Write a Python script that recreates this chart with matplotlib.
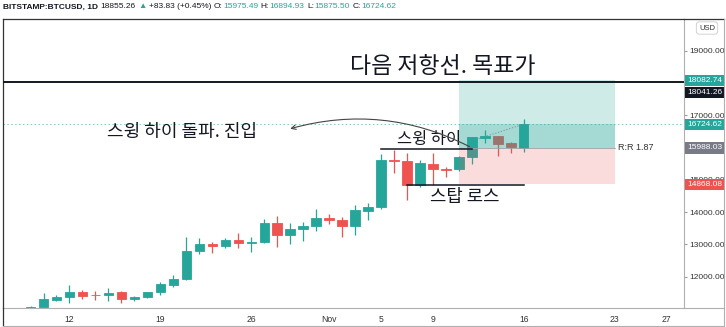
import matplotlib
matplotlib.use("Agg")
import matplotlib.pyplot as plt
from matplotlib.patches import Rectangle, FancyArrowPatch
from matplotlib.transforms import blended_transform_factory
from matplotlib.lines import Line2D

# ---- daily BTC/USD candles (day index 0 = Oct 12) ----
days = list(range(-3, 36))
opens = [10930, 11060, 11290, 11360, 11535, 11440, 11425, 11515, 11310, 11360,
         11525, 11750, 11920, 12795, 13000, 12940, 13127, 13034, 13065, 13653,
         13282, 13467, 13570, 13808, 13755, 13570, 14044, 14150, 15613, 15590,
         14840, 15490, 15340, 15325, 15715, 16310, 16360, 16130, 15975.49]
highs = [11100, 11486, 11430, 11740, 11590, 11560, 11640, 11560, 11410, 11540,
         11845, 12050, 13238, 13207, 13085, 13190, 13362, 13238, 13786, 13879,
         13653, 13684, 14096, 13932, 13848, 14230, 14272, 15790, 15920, 15820,
         15613, 15820, 15405, 15740, 16340, 16544, 16360, 16180, 16894.93]
lows = [10830, 11050, 11250, 11180, 11310, 11280, 11250, 11195, 11260, 11350,
        11430, 11690, 11900, 12700, 12745, 12880, 12898, 12774, 13050, 12910,
        13003, 13115, 13415, 13641, 13220, 13290, 13755, 14100, 15200, 14375,
        14790, 14840, 15096, 15270, 15490, 16132, 15740, 15820, 15875.50]
closes = [11060, 11300, 11360, 11530, 11410, 11425, 11505, 11320, 11370, 11525,
          11775, 11920, 12795, 13000, 12940, 13127, 13034, 13074, 13653, 13282,
          13467, 13570, 13826, 13755, 13570, 14060, 14150, 15613, 15590, 14840,
          15510, 15344, 15310, 15715, 16316, 16350, 16110, 16006, 16724.62]

# ---- axis labels ----
x_tick_days = [0, 7, 14, 20, 24, 28, 35, 42, 46]
x_tick_labels = ["12", "19", "26", "Nov", "5", "9", "16", "23", "27"]
y_ticks = [12000, 13000, 14000, 15000, 17000, 19000]

# ---- drawings ----
resistance = 18041.26
entry_price = 15988.03
target_price = 18082.74
stop_price = 14868.08
last_price = 16724.62
position_days = [30, 42]
swing_high = 15960
swing_high_days = [24, 31]
stop_line = 14840
stop_line_days = [26, 35]

header_parts = [
    ("BITSTAMP:BTCUSD, 1D", "#131722", "bold"),
    ("18855.26", "#131722", "normal"),
    ("▲", "#26a69a", "normal"),
    ("+83.83 (+0.45%)", "#131722", "normal"),
    ("O:", "#131722", "normal"),
    ("15975.49", "#26a69a", "normal"),
    ("H:", "#131722", "normal"),
    ("16894.93", "#26a69a", "normal"),
    ("L:", "#131722", "normal"),
    ("15875.50", "#26a69a", "normal"),
    ("C:", "#131722", "normal"),
    ("16724.62", "#26a69a", "normal"),
]

UP = "#26a69a"
DOWN = "#ef5350"
KR = ["Noto Sans CJK KR", "DejaVu Sans"]
NUM = ["Liberation Sans", "DejaVu Sans"]

W, H = 726, 327
fig = plt.figure(figsize=(W / 100, H / 100), dpi=100)
fig.patch.set_facecolor("white")

ax = fig.add_axes([3 / W, (H - 308) / H, (684 - 3) / W, (308 - 19) / H])
ax.set_xlim(-5.12, 47.34)
ax.set_ylim(11031, 19982)

# candles
body_w = 0.72
for d, o, h, l, c in zip(days, opens, highs, lows, closes):
    col = UP if c >= o else DOWN
    ax.plot([d, d], [l, h], color=col, lw=0.9, zorder=2, solid_capstyle="butt")
    lo, hi = min(o, c), max(o, c)
    if hi - lo < 15:
        hi = lo + 15
    ax.add_patch(Rectangle((d - body_w / 2, lo), body_w, hi - lo,
                           facecolor=col, edgecolor=col, lw=0.6, zorder=2))

# last price dotted line
ax.axhline(last_price, color=UP, lw=0.7, ls=(0, (1.5, 2.5)), alpha=0.6, zorder=1)

# long position box
p0, p1 = position_days
ax.add_patch(Rectangle((p0, entry_price), p1 - p0, target_price - entry_price,
                       facecolor=UP, alpha=0.22, lw=0, zorder=3))
ax.add_patch(Rectangle((p0, entry_price), p1 - p0, last_price - entry_price,
                       facecolor=UP, alpha=0.25, lw=0, zorder=3))
ax.add_patch(Rectangle((p0, stop_price), p1 - p0, entry_price - stop_price,
                       facecolor=DOWN, alpha=0.2, lw=0, zorder=3))
ax.plot([p0, p1], [entry_price, entry_price], color="#9aa0a6", lw=0.6, zorder=3)
ax.plot([31.3, 35], [16250, last_price], color="#7a8a8a", lw=0.6,
        ls=(0, (1.5, 2)), zorder=4)
ax.text(p1 + 0.25, entry_price, "R:R 1.87", fontsize=6.5, color="#333333",
        va="center", ha="left", family=NUM, zorder=5)

# resistance line
ax.axhline(resistance, color="#131722", lw=1.4, zorder=4)

# swing high / stop loss lines
ax.plot(swing_high_days, [swing_high] * 2, color="#131722", lw=1.1, zorder=4)
ax.plot(stop_line_days, [stop_line] * 2, color="#131722", lw=1.1, zorder=4)

# annotations
ax.text(21.6, 18500, "다음 저항선. 목표가", fontsize=16.5, family=KR,
        color="#131722", va="center", ha="left", zorder=5)
ax.text(2.9, 16470, "스윙 하이 돌파. 진입", fontsize=13, family=KR,
        color="#131722", va="center", ha="left", zorder=5)
ax.text(25.2, 16240, "스윙 하이", fontsize=11.8, family=KR,
        color="#131722", va="center", ha="left", zorder=5)
ax.text(27.8, 14470, "스탑 로스", fontsize=12.8, family=KR,
        color="#131722", va="center", ha="left", zorder=5)

arrow = FancyArrowPatch((31.0, 15990), (16.8, 16560),
                        connectionstyle="arc3,rad=0.2", arrowstyle="->",
                        mutation_scale=8, lw=0.8, color="#444444", zorder=5)
ax.add_patch(arrow)

# axes styling
ax.yaxis.tick_right()
ax.set_yticks(y_ticks)
ax.set_yticklabels([f"{v:.2f}" for v in y_ticks], fontsize=6.0, color="#333333",
                   family=NUM)
ax.tick_params(axis="y", length=2.5, color="#999999", pad=1.5)
ax.set_xticks(x_tick_days)
ax.set_xticklabels(x_tick_labels, fontsize=6.2, color="#333333", family=NUM)
ax.tick_params(axis="x", length=0, pad=5)
for side in ["left", "top"]:
    ax.spines[side].set_color("#333333")
    ax.spines[side].set_linewidth(0.9)
for side in ["bottom", "right"]:
    ax.spines[side].set_color("#b0b0b0")
    ax.spines[side].set_linewidth(0.8)

# price scale labels
btr = blended_transform_factory(ax.transAxes, ax.transData)
scale_labels = [
    (target_price, f"{target_price:.2f}", UP, "white", 0),
    (resistance, f"{resistance:.2f}", "#131722", "white", -11),
    (last_price, f"{last_price:.2f}", UP, "white", 0),
    (entry_price, f"{entry_price:.2f}", "#787b86", "white", 0),
    (stop_price, f"{stop_price:.2f}", DOWN, "white", 0),
]
for price, txt, bg, fg, off in scale_labels:
    ax.annotate(txt, xy=(1.0, price), xycoords=btr, xytext=(3, off),
                textcoords="offset pixels", fontsize=6.0, color=fg,
                family=NUM, va="center", ha="left", annotation_clip=False,
                bbox=dict(boxstyle="square,pad=0.25", fc=bg, ec=bg, lw=0),
                zorder=10)

# outer frame
fig.add_artist(Line2D([3 / W, 3 / W], [(H - 308) / H, (H - 326) / H],
                      color="#333333", lw=0.9, transform=fig.transFigure))
fig.add_artist(Line2D([684 / W, 724 / W], [(H - 308) / H, (H - 308) / H],
                      color="#b0b0b0", lw=0.8, transform=fig.transFigure))
fig.add_artist(Line2D([684 / W, 724 / W], [(H - 19) / H, (H - 19) / H],
                      color="#333333", lw=0.9, transform=fig.transFigure))
fig.add_artist(Line2D([724 / W, 724 / W], [(H - 19) / H, (H - 326) / H],
                      color="#b0b0b0", lw=0.8, transform=fig.transFigure))
fig.add_artist(Line2D([3 / W, 724 / W], [(H - 326) / H, (H - 326) / H],
                      color="#b0b0b0", lw=0.8, transform=fig.transFigure))

# currency tag
fig.text(707 / W, (H - 28) / H, "USD", fontsize=5.5, color="#333333",
         family=NUM, ha="center", va="center",
         bbox=dict(boxstyle="round,pad=0.35,rounding_size=0.4", fc="white",
                   ec="#cccccc", lw=0.6))

# header line
renderer = fig.canvas.get_renderer()
x_px = 3
for txt, col, wt in header_parts:
    t = fig.text(x_px / W, (H - 7) / H, txt, fontsize=6.0, color=col,
                 fontweight=wt, family=NUM, ha="left", va="center")
    bb = t.get_window_extent(renderer)
    gap = 0.5 if txt.endswith(":") else 2.5
    x_px = bb.x1 + gap

fig.savefig("out.png", dpi=100)
